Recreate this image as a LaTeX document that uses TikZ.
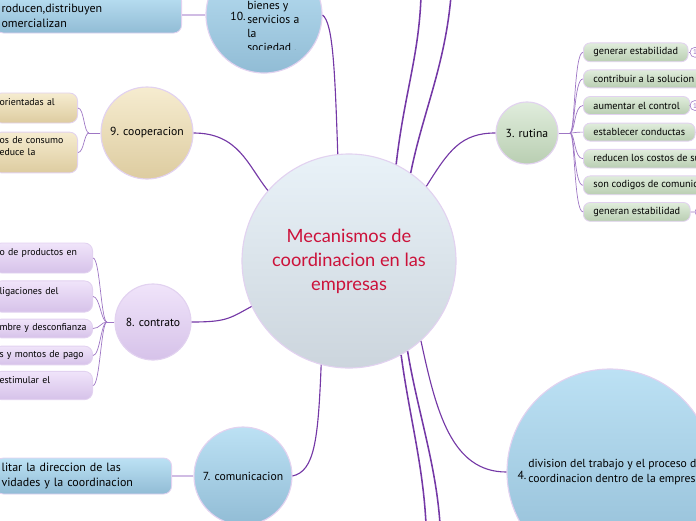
\documentclass[tikz,border=0pt]{standalone}
\usepackage{fontspec}
\setmainfont{PT Sans}
\newfontfamily\titlefont{Lato}
\usetikzlibrary{positioning}

\definecolor{rimlav}{RGB}{226,210,240}
\definecolor{linkpurple}{RGB}{116,56,166}
\definecolor{twigpurple}{RGB}{158,118,196}
\definecolor{stemlav}{RGB}{208,188,228}
\definecolor{titlered}{RGB}{204,18,58}
\definecolor{coretop}{RGB}{233,242,248}
\definecolor{corebot}{RGB}{204,213,221}
\definecolor{bluetop}{RGB}{188,225,244}
\definecolor{bluebot}{RGB}{145,188,213}
\definecolor{greentop}{RGB}{224,237,220}
\definecolor{greenbot}{RGB}{185,206,178}
\definecolor{tantop}{RGB}{246,236,208}
\definecolor{tanbot}{RGB}{221,204,160}
\definecolor{liltop}{RGB}{240,228,250}
\definecolor{lilbot}{RGB}{214,194,233}

\tikzset{
  topic/.style={circle, draw=rimlav, line width=0.8pt, inner sep=0pt, align=center,
    font=\fontsize{8.3}{10}\selectfont},
  bluetopic/.style={topic, top color=bluetop, bottom color=bluebot},
  greentopic/.style={topic, top color=greentop, bottom color=greenbot},
  tantopic/.style={topic, top color=tantop, bottom color=tanbot},
  liltopic/.style={topic, top color=liltop, bottom color=lilbot},
  leaf/.style={draw=rimlav, line width=0.6pt, rounded corners=0.2cm, inner xsep=0.15cm, align=left},
  greenleaf/.style={leaf, top color=greentop, bottom color=greenbot, anchor=west,
    minimum height=0.45cm, inner xsep=0.25cm, rounded corners=0.17cm, font=\fontsize{7.3}{8.5}\selectfont},
  lilleaf/.style={leaf, top color=liltop, bottom color=lilbot, anchor=east, font=\fontsize{7}{8.5}\selectfont},
  tanleaf/.style={leaf, top color=tantop, bottom color=tanbot, anchor=east, font=\fontsize{7}{8.5}\selectfont},
  blueleaf/.style={leaf, top color=bluetop, bottom color=bluebot, anchor=east, font=\fontsize{8.5}{10.7}\selectfont},
  knob/.style={circle, draw=twigpurple, fill=white, inner sep=0pt, minimum size=0.25cm,
    font=\fontsize{5}{5}\selectfont, text=twigpurple},
  link/.style={draw=linkpurple, line width=0.8pt},
  trunk/.style={draw=linkpurple, line width=1.1pt},
  twig/.style={draw=twigpurple, line width=0.5pt},
  stem/.style={draw=stemlav, line width=0.8pt}
}

\begin{document}
\begin{tikzpicture}[x=0.025cm, y=-0.025cm]
\useasboundingbox (0,0) rectangle (696,520);

\node[topic, top color=coretop, bottom color=corebot, minimum size=5.35cm,
  font=\titlefont\fontsize{13}{17}\selectfont, text=titlered] (core) at (349,261)
  {Mecanismos de\\coordinacion en las\\empresas};

% 10
\node[bluetopic, minimum size=2.9cm] (n10) at (264,15) {};
\node (n10num) at (238,16) {\fontsize{8.3}{10}\selectfont 10.};
\begin{scope}
\clip (200,-20) rectangle (330,49);
\node[anchor=north west, align=left, inner sep=0pt, font=\fontsize{8.3}{10}\selectfont] (n10txt) at (247,1)
  {bienes y\\servicios a\\la\\sociedad .};
\end{scope}
\node[blueleaf, text width=4.35cm, minimum height=1.0cm] (b10) at (182,13)
  {\mbox{}\\roducen,distribuyen\\omercializan};
\draw[stem] (n10.west) -- (n10.west -| b10.east);

% 9
\node[tantopic, minimum size=2.3cm] (n9) at (147,133) {9. cooperacion};
\node[tanleaf, text width=1.8cm, minimum height=0.75cm] (k1) at (78,108) {orientadas al\\\mbox{}};
\node[tanleaf, text width=1.8cm, minimum height=1.02cm] (k2) at (78,152.5) {os de consumo\\educe la\\\mbox{}};
\coordinate (kj) at (89,133);
\draw[twig] (n9.west) -- (kj);
\foreach \i in {1,2}
  \draw[twig] (kj) .. controls +(-5,0) and +(6,0) .. (k\i.east);

% 8
\node[liltopic, minimum size=1.9cm] (n8) at (153,322) {8. contrato};
\node[lilleaf, text width=2.175cm, minimum height=0.75cm] (c1) at (93,258) {o de productos en\\\mbox{}};
\node[lilleaf, text width=2.175cm, minimum height=0.78cm] (c2) at (93,296.5) {ligaciones del\\\mbox{}};
\node[lilleaf, text width=2.175cm, minimum height=0.47cm] (c3) at (93,328.5) {mbre y desconfianza};
\node[lilleaf, text width=2.175cm, minimum height=0.47cm] (c4) at (93,355.5) {s y montos de pago};
\node[lilleaf, text width=2.175cm, minimum height=0.63cm] (c5) at (93,385.5) {estimular el\\\mbox{}};
\coordinate (cj) at (107,322);
\draw[twig] (n8.west) -- (cj);
\foreach \i in {1,...,5}
  \draw[twig] (cj) .. controls +(-6,0) and +(7,0) .. (c\i.east);

% 7
\node[bluetopic, minimum size=2.45cm] (n7) at (243,476) {7. comunicacion};
\node[blueleaf, text width=4.1cm, minimum height=0.9cm] (b7) at (172,476)
  {litar la direccion de las\\vidades y la coordinacion};
\draw[stem] (b7.east) -- (n7.west);

% 4
\node[bluetopic, minimum size=5.15cm] (n4) at (610,472) {};
\node (n4num) at (522,475) {\fontsize{8.3}{10}\selectfont 4.};
\node[anchor=west, align=left, inner sep=0pt, font=\fontsize{8.3}{10.7}\selectfont] (n4txt) at (528,472)
  {division del trabajo y el proceso de\\coordinacion dentro de la empresa};

% 3
\node[greentopic, minimum size=1.55cm] (rut) at (527,133) {3. rutina};
\foreach \txt [count=\i] in {generar estabilidad, contribuir a la solucion de,
    aumentar el control, establecer conductas, reducen los costos de sup,
    son codigos de comunica, generan estabilidad}
  \node[greenleaf] (r\i) at (583,{25.7+26.6*\i}) {\txt};
\coordinate (rj) at (570,133);
\draw[twig] (rut.east) -- (rj);
\foreach \i in {1,...,7}
  \draw[twig] (rj) .. controls +(5,0) and +(-9,0) .. (r\i.west);
\node[knob] (r1k) at (695,52.3) {1};
\node[knob] (r3k) at (695,105.5) {1};
\node[knob] (r4k) at (706,132.1) {1};
\node[knob] (r7k) at (700,211.9) {1};
\foreach \i in {1,3,4,7}
  \draw[twig] (r\i.east) -- (r\i k);

% main links
\coordinate (up1) at (421,-4);
\coordinate (up2) at (451,-4);
\coordinate (dn1) at (426,524);
\coordinate (dn2) at (440,524);
\draw[link] (n10.east) .. controls +(10,8) and +(-3,-90) .. (core.96);
\draw[trunk] (core.64) .. controls +(8,-70) and +(-2,60) .. (up1);
\draw[trunk] (core.55) .. controls +(12,-60) and +(-6,70) .. (up2);
\draw[link] (core.44) .. controls +(22,-35) and +(-35,0) .. (rut.west);
\draw[link] (core.-48) .. controls +(15,70) and +(-55,0) .. (n4.west);
\draw[trunk] (core.-61) .. controls +(8,60) and +(-3,-60) .. (dn1);
\draw[trunk] (core.-57) .. controls +(10,60) and +(-4,-60) .. (dn2);
\draw[link] (core.-105) .. controls +(-3,75) and +(22,-5) .. (n7.east);
\draw[link] (n8.east) .. controls +(35,0) and +(-22,12) .. (core.-155);
\draw[link] (n9.east) .. controls +(45,0) and +(-20,-25) .. (core.139);
\end{tikzpicture}
\end{document}
